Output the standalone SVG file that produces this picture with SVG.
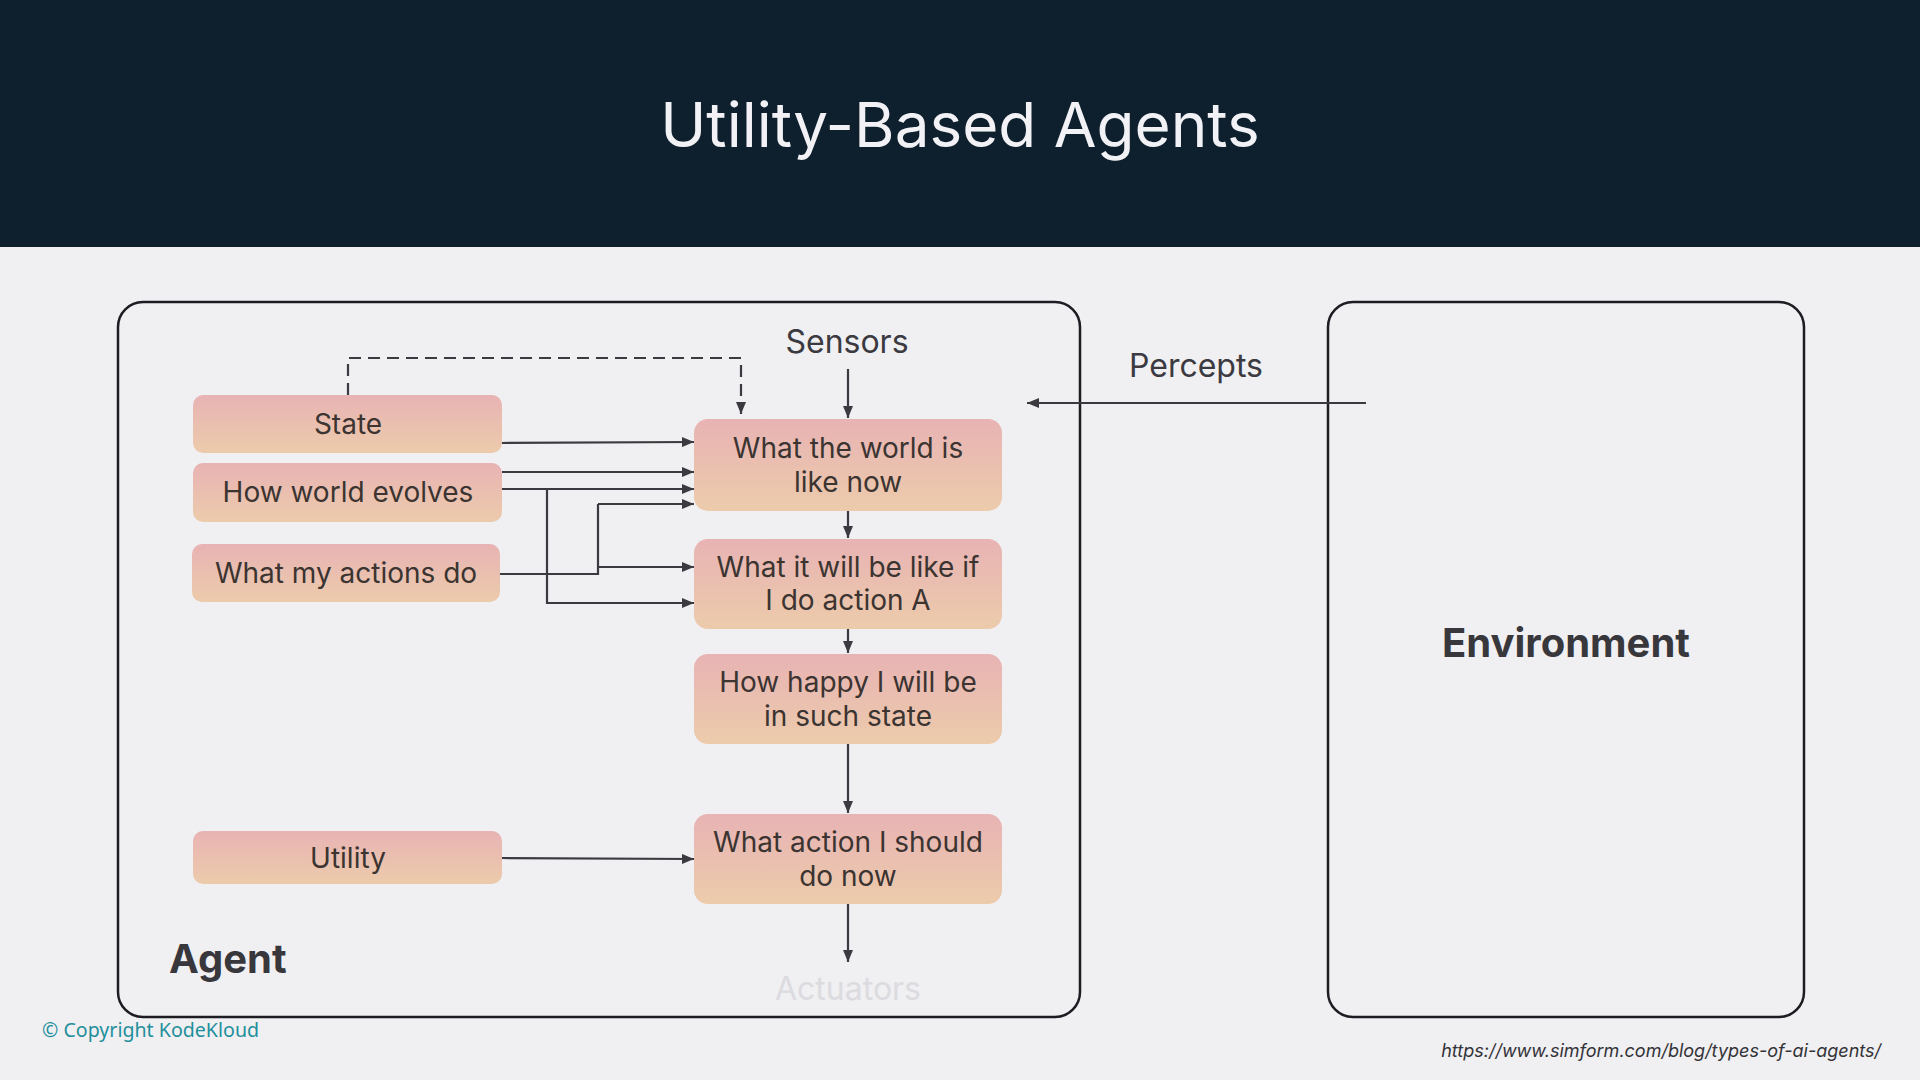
<svg xmlns="http://www.w3.org/2000/svg" width="1920" height="1080" viewBox="0 0 1920 1080">
<defs>
<linearGradient id="nodeGrad" x1="0" y1="0" x2="0" y2="1">
<stop offset="0" stop-color="#e8b3b4"/>
<stop offset="1" stop-color="#eccbab"/>
</linearGradient>
<marker id="arr" viewBox="0 0 12 10" refX="12" refY="5" markerWidth="12" markerHeight="10" markerUnits="userSpaceOnUse" orient="auto">
<path d="M0,0 L12,5 L0,10 Z" fill="#3a3a40"/>
</marker>
</defs>
<style>
.node rect{fill:url(#nodeGrad);}
.nt{font-family:Inter,"Liberation Sans",sans-serif;font-size:28px;fill:#3b3431;text-anchor:middle;}
.lbl{font-family:Inter,"Liberation Sans",sans-serif;font-size:32px;fill:#3b3a40;text-anchor:middle;}
.big{font-family:Inter,"Liberation Sans",sans-serif;font-size:40px;font-weight:700;fill:#38373c;}
.frame{fill:none;stroke:#1c1c22;stroke-width:2.5;}
.c{fill:none;stroke:#3a3a40;stroke-width:2.2;}
.ca{fill:none;stroke:#3a3a40;stroke-width:2.2;marker-end:url(#arr);}
.dash{stroke-dasharray:12 7;}
</style>
<rect x="0" y="0" width="1920" height="1080" fill="#f0eff2"/>
<rect x="0" y="0" width="1920" height="247" fill="#0e202e"/>
<text x="960" y="147" font-family="Inter,'Liberation Sans',sans-serif" font-size="62" fill="#f2f2f6" text-anchor="middle">Utility-Based Agents</text>

<g id="agent">
<rect class="frame" x="118" y="302" width="962" height="715" rx="25"/>
<text class="big" x="169" y="973">Agent</text>
<text class="lbl" x="847" y="353">Sensors</text>
<text class="lbl" x="848" y="1000" style="fill:#dcdbe0">Actuators</text>
</g>

<g id="environment">
<rect class="frame" x="1328" y="302" width="476" height="715" rx="25"/>
<text class="big" x="1566" y="657" text-anchor="middle">Environment</text>
</g>

<text class="lbl" x="1196" y="377">Percepts</text>

<g id="state" class="node">
<rect x="193" y="395" width="309" height="58" rx="10"/>
<text class="nt" x="348" y="434">State</text>
</g>
<g id="how-world-evolves" class="node">
<rect x="193" y="463" width="309" height="59" rx="10"/>
<text class="nt" x="348" y="502">How world evolves</text>
</g>
<g id="what-my-actions-do" class="node">
<rect x="192" y="544" width="308" height="58" rx="10"/>
<text class="nt" x="346" y="583">What my actions do</text>
</g>
<g id="utility" class="node">
<rect x="193" y="831" width="309" height="53" rx="10"/>
<text class="nt" x="348" y="868">Utility</text>
</g>

<g id="world-now" class="node">
<rect x="694" y="419" width="308" height="92" rx="14"/>
<text class="nt" x="848" y="458">What the world is</text>
<text class="nt" x="848" y="492">like now</text>
</g>
<g id="action-a" class="node">
<rect x="694" y="539" width="308" height="90" rx="14"/>
<text class="nt" x="848" y="577">What it will be like if</text>
<text class="nt" x="848" y="610">I do action A</text>
</g>
<g id="how-happy" class="node">
<rect x="694" y="654" width="308" height="90" rx="14"/>
<text class="nt" x="848" y="692">How happy I will be</text>
<text class="nt" x="848" y="726">in such state</text>
</g>
<g id="what-action" class="node">
<rect x="694" y="814" width="308" height="90" rx="14"/>
<text class="nt" x="848" y="852">What action I should</text>
<text class="nt" x="848" y="886">do now</text>
</g>

<g id="connectors">
<path class="ca dash" d="M348,395 V358 H741 V414"/>
<path class="ca" d="M848,369 V418"/>
<path class="ca" d="M1366,403 H1027"/>
<path class="ca" d="M502,443 L694,442"/>
<path class="ca" d="M502,472 H694"/>
<path class="ca" d="M502,489 H694"/>
<path class="ca" d="M547,489 V603 H694"/>
<path class="c" d="M500,574 H598 V504"/>
<path class="ca" d="M598,504 H694"/>
<path class="ca" d="M598,567 H694"/>
<path class="ca" d="M848,511 V538"/>
<path class="ca" d="M848,629 V653"/>
<path class="ca" d="M848,744 V813"/>
<path class="ca" d="M848,904 V962"/>
<path class="ca" d="M502,858 L694,859"/>
</g>

<text x="42" y="1037" font-family="'Noto Sans','Liberation Sans',sans-serif" font-size="19.6" fill="#1f8f9c">© Copyright KodeKloud</text>
<text x="1881" y="1057" font-family="Inter,'Liberation Sans',sans-serif" font-size="18" font-style="italic" fill="#333338" text-anchor="end">https://www.simform.com/blog/types-of-ai-agents/</text>
</svg>
